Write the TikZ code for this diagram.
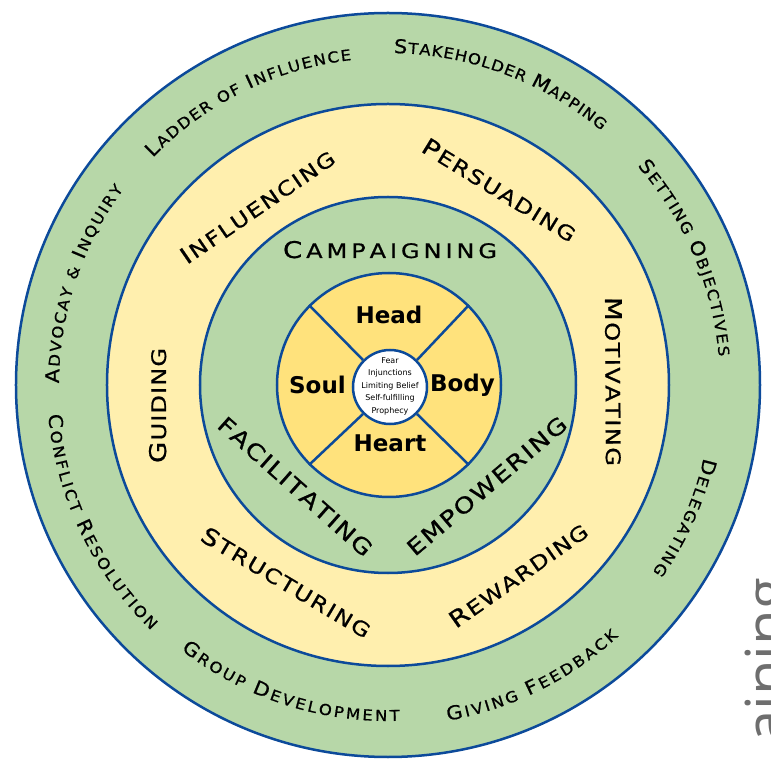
\documentclass[tikz,border=0pt]{standalone}
\usepackage{fontspec}
\usepackage{tikz}
\usetikzlibrary{decorations.text}
\newfontfamily\capsfont[FakeStretch=1.2, FakeBold=0.8]{DejaVu Sans}
\newfontfamily\edgefont[FakeStretch=1.1, FakeBold=0.8]{DejaVu Sans}
\newfontfamily\wordfont{DejaVu Sans}
\newfontfamily\brandfont{Open Sans}
\definecolor{ringblue}{HTML}{0C4A9A}
\definecolor{leafgreen}{HTML}{B7D7A8}
\definecolor{paleyellow}{HTML}{FFEFAE}
\definecolor{coreyellow}{HTML}{FFE27C}
\definecolor{brandgray}{HTML}{6E6E6E}
\newcommand{\outerbig}{\edgefont\fontsize{19}{19}\selectfont}
\newcommand{\outersmall}{\edgefont\fontsize{15}{15}\selectfont}
\newcommand{\ringbig}{\capsfont\fontsize{23}{23}\selectfont}
\newcommand{\ringsmall}{\capsfont\fontsize{20}{20}\selectfont}
\newcommand{\flatcaps}{\capsfont\fontsize{22}{22}\selectfont}
\tikzset{
  disc/.style={circle, draw=ringblue, line width=2.5pt, inner sep=0pt, minimum size=#1},
  spoke/.style={draw=ringblue, line width=2.5pt},
  curved/.style={decorate, decoration={text along path, text align={fit to path}, text={#1}}},
  facet/.style={anchor=base, font=\wordfont\bfseries\fontsize{23}{23}\selectfont},
}
\begin{document}
\begin{tikzpicture}[x=1pt,y=1pt]
\useasboundingbox (-388,-380) rectangle (383,385);
\node[disc=744pt, fill=leafgreen] (outer) at (0,0) {};
\node[disc=562pt, fill=paleyellow] (middle) at (0,0) {};
\node[disc=376pt, fill=leafgreen] (inner) at (0,0) {};
\node[disc=224pt, fill=coreyellow] (core) at (1,0) {};
\node[disc=74pt, fill=white] (hub) at (2,-2) {};
\foreach \a in {45,135,225,315} {\draw[spoke] (hub.\a) -- (core.\a);}

\node[facet] (head) at (1,61) {Head};
\node[facet] (body) at (74.5,-6.5) {Body};
\node[facet] (heart) at (2,-67) {Heart};
\node[facet] (soul) at (-70.5,-9) {Soul};
\node[font=\wordfont\fontsize{8}{12.5}\selectfont, align=center, inner sep=0pt] (beliefs) at (2,-1.4)
  {Fear\\Injunctions\\Limiting Belief\\Self-fulfilling\\Prophecy};

\path[curved={|\outerbig|L|\outersmall|ADDER OF |\outerbig|I|\outersmall|NFLUENCE}] (136:327) arc[start angle=136, end angle=96.4, radius=327];
\path[curved={|\outerbig|S|\outersmall|TAKEHOLDER |\outerbig|M|\outersmall|APPING}] (89:332) arc[start angle=89, end angle=50, radius=332];
\path[curved={|\outerbig|S|\outersmall|ETTING |\outerbig|O|\outersmall|BJECTIVES}] (41.3:332) arc[start angle=41.3, end angle=4.9, radius=332];
\path[curved={|\outerbig|D|\outersmall|ELEGATING}] (-13:324) arc[start angle=-13, end angle=-35.3, radius=324];
\path[curved={|\outerbig|G|\outersmall|IVING |\outerbig|F|\outersmall|EEDBACK}] (-79.9:341) arc[start angle=-79.9, end angle=-47.5, radius=341];
\path[curved={|\outerbig|G|\outersmall|ROUP |\outerbig|D|\outersmall|EVELOPMENT}] (-128:336) arc[start angle=-128, end angle=-88, radius=336];
\path[curved={|\outerbig|C|\outersmall|ONFLICT |\outerbig|R|\outersmall|ESOLUTION}] (185:341) arc[start angle=185, end angle=226, radius=341];
\path[curved={|\outerbig|A|\outersmall|DVOCAY {\&} |\outerbig|I|\outersmall|NQUIRY}] (179.7:329) arc[start angle=179.7, end angle=143.5, radius=329];

\path[curved={|\ringbig|I|\ringsmall|NFLUENCING}] (-201,120) -- (-51,223);
\path[curved={|\ringbig|P|\ringsmall|ERSUADING}] (32,234) -- (182,142);
\path[curved={|\ringbig|M|\ringsmall|OTIVATING}] (217,88) -- (218,-81);
\path[curved={|\ringbig|R|\ringsmall|EWARDING}] (68,-244) -- (202,-150);
\path[curved={|\ringbig|S|\ringsmall|TRUCTURING}] (-189,-155) -- (-23,-254);
\path[curved={|\ringbig|G|\ringsmall|UIDING}] (-222,-78) -- (-222,37);

\path[curved={|\ringbig|C|\ringsmall|AMPAIGNING}] (-105,127) -- (109,127);
\path[curved={|\flatcaps|FACILITATING}] (-172,-42) -- (-24,-173);
\path[curved={|\flatcaps|EMPOWERING}] (27,-172) -- (181,-42);

\begin{scope}
\clip (-388,-380) rectangle (383,385);
\node[rotate=90, anchor=base east, inner sep=0pt, text=brandgray, font=\brandfont\fontsize{58}{58}\selectfont] (brand) at (399,-193) {aining};
\end{scope}
\end{tikzpicture}
\end{document}
